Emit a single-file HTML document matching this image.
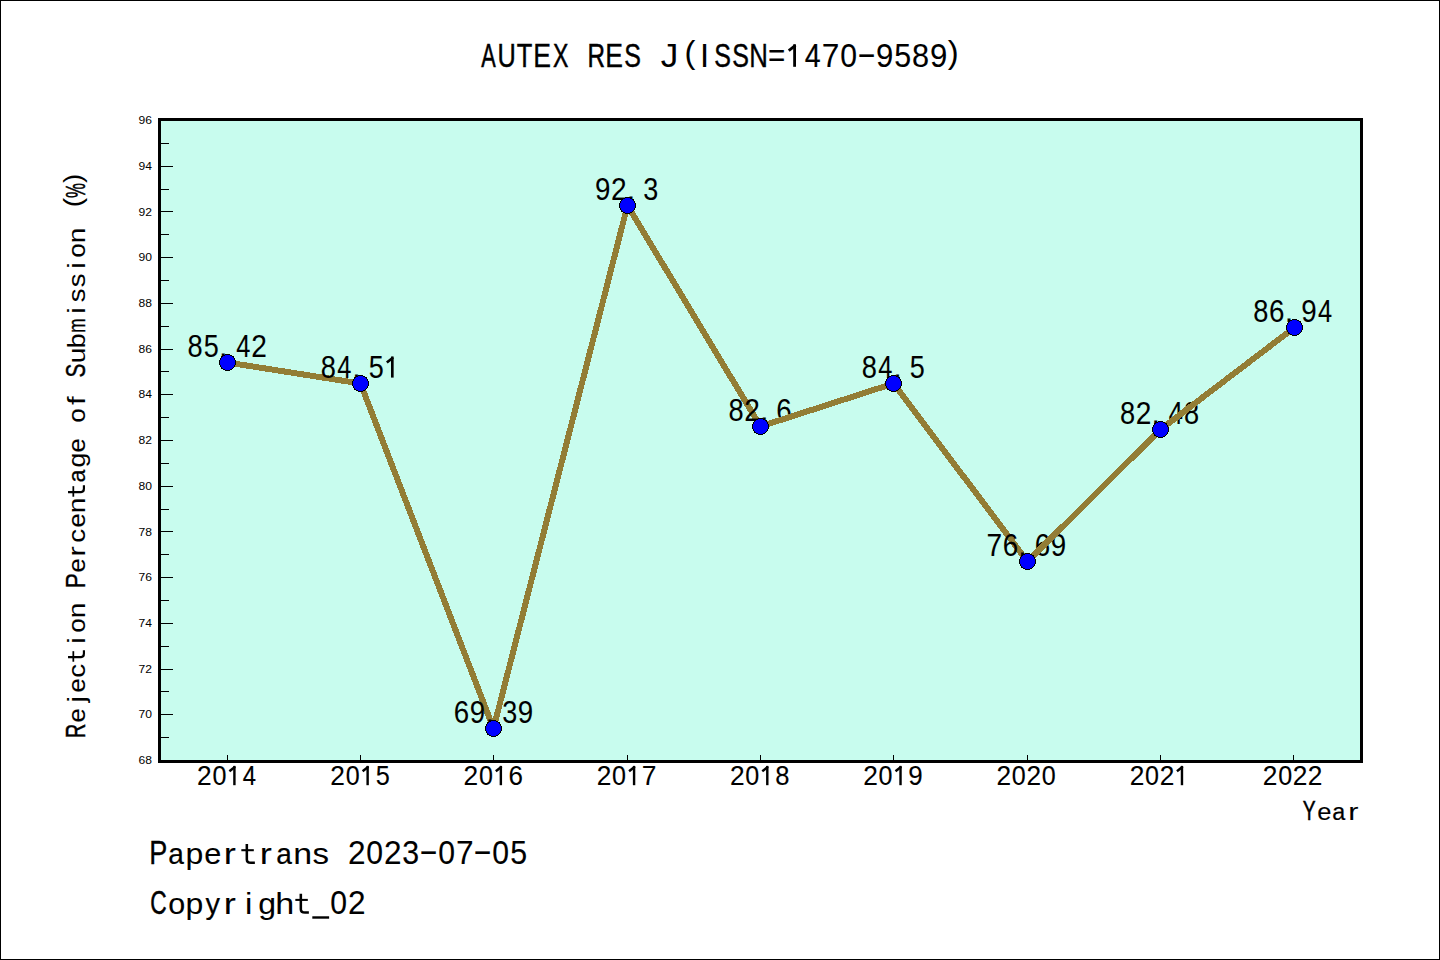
<!DOCTYPE html>
<html><head><meta charset="utf-8"><title>chart</title>
<style>
html,body{margin:0;padding:0;width:1440px;height:960px;overflow:hidden;background:#fff}
svg{display:block}
text{font-family:"Liberation Sans",sans-serif;fill:#000}
</style></head><body>
<svg width="1440" height="960" viewBox="0 0 1440 960">
<rect x="0" y="0" width="1440" height="960" fill="#fff"/>
<rect x="0.5" y="0.5" width="1439" height="959" fill="none" stroke="#000" stroke-width="1"/>
<rect x="161" y="121" width="1199" height="639" fill="#c8fcee"/>
<rect x="161" y="737" width="8" height="1" fill="#000"/>
<rect x="161" y="714" width="12" height="1" fill="#000"/>
<rect x="161" y="691" width="8" height="1" fill="#000"/>
<rect x="161" y="669" width="12" height="1" fill="#000"/>
<rect x="161" y="646" width="8" height="1" fill="#000"/>
<rect x="161" y="623" width="12" height="1" fill="#000"/>
<rect x="161" y="600" width="8" height="1" fill="#000"/>
<rect x="161" y="577" width="12" height="1" fill="#000"/>
<rect x="161" y="554" width="8" height="1" fill="#000"/>
<rect x="161" y="531" width="12" height="1" fill="#000"/>
<rect x="161" y="509" width="8" height="1" fill="#000"/>
<rect x="161" y="486" width="12" height="1" fill="#000"/>
<rect x="161" y="463" width="8" height="1" fill="#000"/>
<rect x="161" y="440" width="12" height="1" fill="#000"/>
<rect x="161" y="417" width="8" height="1" fill="#000"/>
<rect x="161" y="394" width="12" height="1" fill="#000"/>
<rect x="161" y="371" width="8" height="1" fill="#000"/>
<rect x="161" y="349" width="12" height="1" fill="#000"/>
<rect x="161" y="326" width="8" height="1" fill="#000"/>
<rect x="161" y="303" width="12" height="1" fill="#000"/>
<rect x="161" y="280" width="8" height="1" fill="#000"/>
<rect x="161" y="257" width="12" height="1" fill="#000"/>
<rect x="161" y="234" width="8" height="1" fill="#000"/>
<rect x="161" y="211" width="12" height="1" fill="#000"/>
<rect x="161" y="189" width="8" height="1" fill="#000"/>
<rect x="161" y="166" width="12" height="1" fill="#000"/>
<rect x="161" y="143" width="8" height="1" fill="#000"/>
<text transform="translate(152,764.1) scale(1.1,1)" font-size="11" text-anchor="end">68</text>
<text transform="translate(152,718.4) scale(1.1,1)" font-size="11" text-anchor="end">70</text>
<text transform="translate(152,672.7) scale(1.1,1)" font-size="11" text-anchor="end">72</text>
<text transform="translate(152,627.0) scale(1.1,1)" font-size="11" text-anchor="end">74</text>
<text transform="translate(152,581.2) scale(1.1,1)" font-size="11" text-anchor="end">76</text>
<text transform="translate(152,535.5) scale(1.1,1)" font-size="11" text-anchor="end">78</text>
<text transform="translate(152,489.8) scale(1.1,1)" font-size="11" text-anchor="end">80</text>
<text transform="translate(152,444.1) scale(1.1,1)" font-size="11" text-anchor="end">82</text>
<text transform="translate(152,398.4) scale(1.1,1)" font-size="11" text-anchor="end">84</text>
<text transform="translate(152,352.7) scale(1.1,1)" font-size="11" text-anchor="end">86</text>
<text transform="translate(152,307.0) scale(1.1,1)" font-size="11" text-anchor="end">88</text>
<text transform="translate(152,261.2) scale(1.1,1)" font-size="11" text-anchor="end">90</text>
<text transform="translate(152,215.5) scale(1.1,1)" font-size="11" text-anchor="end">92</text>
<text transform="translate(152,169.8) scale(1.1,1)" font-size="11" text-anchor="end">94</text>
<text transform="translate(152,124.1) scale(1.1,1)" font-size="11" text-anchor="end">96</text>
<rect x="227" y="755" width="1" height="5" fill="#000"/>
<rect x="360" y="755" width="1" height="5" fill="#000"/>
<rect x="493" y="755" width="1" height="5" fill="#000"/>
<rect x="627" y="755" width="1" height="5" fill="#000"/>
<rect x="760" y="755" width="1" height="5" fill="#000"/>
<rect x="893" y="755" width="1" height="5" fill="#000"/>
<rect x="1027" y="755" width="1" height="5" fill="#000"/>
<rect x="1160" y="755" width="1" height="5" fill="#000"/>
<rect x="1293" y="755" width="1" height="5" fill="#000"/>
<text transform="translate(195.11,356.60) scale(0.889,1.000)" x="-8.53" font-size="30.67" stroke="#000" stroke-width="0.07">8</text><text transform="translate(211.11,356.60) scale(0.880,1.000)" x="-8.50" font-size="30.67" stroke="#000" stroke-width="0.08">5</text><text transform="translate(223.27,356.60) scale(1.000,1.000)" x="-4.26" font-size="30.67" stroke="#000" stroke-width="0.02">.</text><text transform="translate(243.11,356.60) scale(0.828,1.000)" x="-8.43" font-size="30.67" stroke="#000" stroke-width="0.11">4</text><text transform="translate(259.11,356.60) scale(0.916,1.000)" x="-8.53" font-size="30.67" stroke="#000" stroke-width="0.05">2</text>
<line x1="227.5" y1="362.5" x2="360.5" y2="383.5" stroke="#937d35" stroke-width="6" stroke-linecap="round" shape-rendering="crispEdges"/>
<text transform="translate(328.33,377.60) scale(0.889,1.000)" x="-8.53" font-size="30.67" stroke="#000" stroke-width="0.07">8</text><text transform="translate(344.33,377.60) scale(0.828,1.000)" x="-8.43" font-size="30.67" stroke="#000" stroke-width="0.11">4</text><text transform="translate(356.49,377.60) scale(1.000,1.000)" x="-4.26" font-size="30.67" stroke="#000" stroke-width="0.02">.</text><text transform="translate(376.33,377.60) scale(0.880,1.000)" x="-8.50" font-size="30.67" stroke="#000" stroke-width="0.08">5</text><g transform="translate(392.33,377.60)"><path d="M-1.32,-21.10H1.32V0H-1.32Z" fill="#000"/><line x1="0.79" y1="-20.18" x2="-5.49" y2="-15.19" stroke="#000" stroke-width="2.64"/></g>
<line x1="360.5" y1="383.5" x2="493.5" y2="728.5" stroke="#937d35" stroke-width="6" stroke-linecap="round" shape-rendering="crispEdges"/>
<text transform="translate(461.56,722.60) scale(0.905,1.000)" x="-8.63" font-size="30.67" stroke="#000" stroke-width="0.06">6</text><text transform="translate(477.56,722.60) scale(0.904,1.000)" x="-8.52" font-size="30.67" stroke="#000" stroke-width="0.06">9</text><text transform="translate(489.72,722.60) scale(1.000,1.000)" x="-4.26" font-size="30.67" stroke="#000" stroke-width="0.02">.</text><text transform="translate(509.56,722.60) scale(0.880,1.000)" x="-8.44" font-size="30.67" stroke="#000" stroke-width="0.08">3</text><text transform="translate(525.56,722.60) scale(0.904,1.000)" x="-8.52" font-size="30.67" stroke="#000" stroke-width="0.06">9</text>
<line x1="493.5" y1="728.5" x2="627.5" y2="205.5" stroke="#937d35" stroke-width="6" stroke-linecap="round" shape-rendering="crispEdges"/>
<text transform="translate(602.78,199.60) scale(0.904,1.000)" x="-8.52" font-size="30.67" stroke="#000" stroke-width="0.06">9</text><text transform="translate(618.78,199.60) scale(0.916,1.000)" x="-8.53" font-size="30.67" stroke="#000" stroke-width="0.05">2</text><text transform="translate(630.94,199.60) scale(1.000,1.000)" x="-4.26" font-size="30.67" stroke="#000" stroke-width="0.02">.</text><text transform="translate(650.78,199.60) scale(0.880,1.000)" x="-8.44" font-size="30.67" stroke="#000" stroke-width="0.08">3</text>
<line x1="627.5" y1="205.5" x2="760.5" y2="426.5" stroke="#937d35" stroke-width="6" stroke-linecap="round" shape-rendering="crispEdges"/>
<text transform="translate(736.00,420.60) scale(0.889,1.000)" x="-8.53" font-size="30.67" stroke="#000" stroke-width="0.07">8</text><text transform="translate(752.00,420.60) scale(0.916,1.000)" x="-8.53" font-size="30.67" stroke="#000" stroke-width="0.05">2</text><text transform="translate(764.16,420.60) scale(1.000,1.000)" x="-4.26" font-size="30.67" stroke="#000" stroke-width="0.02">.</text><text transform="translate(784.00,420.60) scale(0.905,1.000)" x="-8.63" font-size="30.67" stroke="#000" stroke-width="0.06">6</text>
<line x1="760.5" y1="426.5" x2="893.5" y2="383.5" stroke="#937d35" stroke-width="6" stroke-linecap="round" shape-rendering="crispEdges"/>
<text transform="translate(869.22,377.60) scale(0.889,1.000)" x="-8.53" font-size="30.67" stroke="#000" stroke-width="0.07">8</text><text transform="translate(885.22,377.60) scale(0.828,1.000)" x="-8.43" font-size="30.67" stroke="#000" stroke-width="0.11">4</text><text transform="translate(897.38,377.60) scale(1.000,1.000)" x="-4.26" font-size="30.67" stroke="#000" stroke-width="0.02">.</text><text transform="translate(917.22,377.60) scale(0.880,1.000)" x="-8.50" font-size="30.67" stroke="#000" stroke-width="0.08">5</text>
<line x1="893.5" y1="383.5" x2="1027.5" y2="561.5" stroke="#937d35" stroke-width="6" stroke-linecap="round" shape-rendering="crispEdges"/>
<text transform="translate(994.44,555.60) scale(0.918,1.000)" x="-8.54" font-size="30.67" stroke="#000" stroke-width="0.05">7</text><text transform="translate(1010.44,555.60) scale(0.905,1.000)" x="-8.63" font-size="30.67" stroke="#000" stroke-width="0.06">6</text><text transform="translate(1022.60,555.60) scale(1.000,1.000)" x="-4.26" font-size="30.67" stroke="#000" stroke-width="0.02">.</text><text transform="translate(1042.44,555.60) scale(0.905,1.000)" x="-8.63" font-size="30.67" stroke="#000" stroke-width="0.06">6</text><text transform="translate(1058.44,555.60) scale(0.904,1.000)" x="-8.52" font-size="30.67" stroke="#000" stroke-width="0.06">9</text>
<line x1="1027.5" y1="561.5" x2="1160.5" y2="429.5" stroke="#937d35" stroke-width="6" stroke-linecap="round" shape-rendering="crispEdges"/>
<text transform="translate(1127.67,423.60) scale(0.889,1.000)" x="-8.53" font-size="30.67" stroke="#000" stroke-width="0.07">8</text><text transform="translate(1143.67,423.60) scale(0.916,1.000)" x="-8.53" font-size="30.67" stroke="#000" stroke-width="0.05">2</text><text transform="translate(1155.83,423.60) scale(1.000,1.000)" x="-4.26" font-size="30.67" stroke="#000" stroke-width="0.02">.</text><text transform="translate(1175.67,423.60) scale(0.828,1.000)" x="-8.43" font-size="30.67" stroke="#000" stroke-width="0.11">4</text><text transform="translate(1191.67,423.60) scale(0.889,1.000)" x="-8.53" font-size="30.67" stroke="#000" stroke-width="0.07">8</text>
<line x1="1160.5" y1="429.5" x2="1294.5" y2="327.5" stroke="#937d35" stroke-width="6" stroke-linecap="round" shape-rendering="crispEdges"/>
<text transform="translate(1260.89,321.60) scale(0.889,1.000)" x="-8.53" font-size="30.67" stroke="#000" stroke-width="0.07">8</text><text transform="translate(1276.89,321.60) scale(0.905,1.000)" x="-8.63" font-size="30.67" stroke="#000" stroke-width="0.06">6</text><text transform="translate(1289.05,321.60) scale(1.000,1.000)" x="-4.26" font-size="30.67" stroke="#000" stroke-width="0.02">.</text><text transform="translate(1308.89,321.60) scale(0.904,1.000)" x="-8.52" font-size="30.67" stroke="#000" stroke-width="0.06">9</text><text transform="translate(1324.89,321.60) scale(0.828,1.000)" x="-8.43" font-size="30.67" stroke="#000" stroke-width="0.11">4</text>
<circle cx="227.5" cy="362.5" r="8" fill="#0000ff" stroke="#000" stroke-width="1" shape-rendering="crispEdges"/>
<circle cx="360.5" cy="383.5" r="8" fill="#0000ff" stroke="#000" stroke-width="1" shape-rendering="crispEdges"/>
<circle cx="493.5" cy="728.5" r="8" fill="#0000ff" stroke="#000" stroke-width="1" shape-rendering="crispEdges"/>
<circle cx="627.5" cy="205.5" r="8" fill="#0000ff" stroke="#000" stroke-width="1" shape-rendering="crispEdges"/>
<circle cx="760.5" cy="426.5" r="8" fill="#0000ff" stroke="#000" stroke-width="1" shape-rendering="crispEdges"/>
<circle cx="893.5" cy="383.5" r="8" fill="#0000ff" stroke="#000" stroke-width="1" shape-rendering="crispEdges"/>
<circle cx="1027.5" cy="561.5" r="8" fill="#0000ff" stroke="#000" stroke-width="1" shape-rendering="crispEdges"/>
<circle cx="1160.5" cy="429.5" r="8" fill="#0000ff" stroke="#000" stroke-width="1" shape-rendering="crispEdges"/>
<circle cx="1294.5" cy="327.5" r="8" fill="#0000ff" stroke="#000" stroke-width="1" shape-rendering="crispEdges"/>
<rect x="159.5" y="119.5" width="1202" height="642" fill="none" stroke="#000" stroke-width="3"/>
<text transform="translate(204.41,785.20) scale(0.939,1.000)" x="-7.80" font-size="28.05" stroke="#000" stroke-width="0.08">2</text><text transform="translate(219.41,785.20) scale(0.895,1.000)" x="-7.80" font-size="28.05" stroke="#000" stroke-width="0.15">0</text><g transform="translate(234.41,785.20)"><path d="M-1.21,-19.30H1.21V0H-1.21Z" fill="#000"/><line x1="0.72" y1="-18.46" x2="-5.02" y2="-13.90" stroke="#000" stroke-width="2.41"/></g><text transform="translate(249.41,785.20) scale(0.849,1.000)" x="-7.71" font-size="28.05" stroke="#000" stroke-width="0.22">4</text>
<text transform="translate(337.63,785.20) scale(0.939,1.000)" x="-7.80" font-size="28.05" stroke="#000" stroke-width="0.08">2</text><text transform="translate(352.63,785.20) scale(0.895,1.000)" x="-7.80" font-size="28.05" stroke="#000" stroke-width="0.15">0</text><g transform="translate(367.63,785.20)"><path d="M-1.21,-19.30H1.21V0H-1.21Z" fill="#000"/><line x1="0.72" y1="-18.46" x2="-5.02" y2="-13.90" stroke="#000" stroke-width="2.41"/></g><text transform="translate(382.63,785.20) scale(0.902,1.000)" x="-7.77" font-size="28.05" stroke="#000" stroke-width="0.14">5</text>
<text transform="translate(470.86,785.20) scale(0.939,1.000)" x="-7.80" font-size="28.05" stroke="#000" stroke-width="0.08">2</text><text transform="translate(485.86,785.20) scale(0.895,1.000)" x="-7.80" font-size="28.05" stroke="#000" stroke-width="0.15">0</text><g transform="translate(500.86,785.20)"><path d="M-1.21,-19.30H1.21V0H-1.21Z" fill="#000"/><line x1="0.72" y1="-18.46" x2="-5.02" y2="-13.90" stroke="#000" stroke-width="2.41"/></g><text transform="translate(515.86,785.20) scale(0.927,1.000)" x="-7.90" font-size="28.05" stroke="#000" stroke-width="0.10">6</text>
<text transform="translate(604.08,785.20) scale(0.939,1.000)" x="-7.80" font-size="28.05" stroke="#000" stroke-width="0.08">2</text><text transform="translate(619.08,785.20) scale(0.895,1.000)" x="-7.80" font-size="28.05" stroke="#000" stroke-width="0.15">0</text><g transform="translate(634.08,785.20)"><path d="M-1.21,-19.30H1.21V0H-1.21Z" fill="#000"/><line x1="0.72" y1="-18.46" x2="-5.02" y2="-13.90" stroke="#000" stroke-width="2.41"/></g><text transform="translate(649.08,785.20) scale(0.941,1.000)" x="-7.81" font-size="28.05" stroke="#000" stroke-width="0.08">7</text>
<text transform="translate(737.30,785.20) scale(0.939,1.000)" x="-7.80" font-size="28.05" stroke="#000" stroke-width="0.08">2</text><text transform="translate(752.30,785.20) scale(0.895,1.000)" x="-7.80" font-size="28.05" stroke="#000" stroke-width="0.15">0</text><g transform="translate(767.30,785.20)"><path d="M-1.21,-19.30H1.21V0H-1.21Z" fill="#000"/><line x1="0.72" y1="-18.46" x2="-5.02" y2="-13.90" stroke="#000" stroke-width="2.41"/></g><text transform="translate(782.30,785.20) scale(0.912,1.000)" x="-7.80" font-size="28.05" stroke="#000" stroke-width="0.12">8</text>
<text transform="translate(870.52,785.20) scale(0.939,1.000)" x="-7.80" font-size="28.05" stroke="#000" stroke-width="0.08">2</text><text transform="translate(885.52,785.20) scale(0.895,1.000)" x="-7.80" font-size="28.05" stroke="#000" stroke-width="0.15">0</text><g transform="translate(900.52,785.20)"><path d="M-1.21,-19.30H1.21V0H-1.21Z" fill="#000"/><line x1="0.72" y1="-18.46" x2="-5.02" y2="-13.90" stroke="#000" stroke-width="2.41"/></g><text transform="translate(915.52,785.20) scale(0.926,1.000)" x="-7.79" font-size="28.05" stroke="#000" stroke-width="0.10">9</text>
<text transform="translate(1003.74,785.20) scale(0.939,1.000)" x="-7.80" font-size="28.05" stroke="#000" stroke-width="0.08">2</text><text transform="translate(1018.74,785.20) scale(0.895,1.000)" x="-7.80" font-size="28.05" stroke="#000" stroke-width="0.15">0</text><text transform="translate(1033.74,785.20) scale(0.939,1.000)" x="-7.80" font-size="28.05" stroke="#000" stroke-width="0.08">2</text><text transform="translate(1048.74,785.20) scale(0.895,1.000)" x="-7.80" font-size="28.05" stroke="#000" stroke-width="0.15">0</text>
<text transform="translate(1136.97,785.20) scale(0.939,1.000)" x="-7.80" font-size="28.05" stroke="#000" stroke-width="0.08">2</text><text transform="translate(1151.97,785.20) scale(0.895,1.000)" x="-7.80" font-size="28.05" stroke="#000" stroke-width="0.15">0</text><text transform="translate(1166.97,785.20) scale(0.939,1.000)" x="-7.80" font-size="28.05" stroke="#000" stroke-width="0.08">2</text><g transform="translate(1181.97,785.20)"><path d="M-1.21,-19.30H1.21V0H-1.21Z" fill="#000"/><line x1="0.72" y1="-18.46" x2="-5.02" y2="-13.90" stroke="#000" stroke-width="2.41"/></g>
<text transform="translate(1270.19,785.20) scale(0.939,1.000)" x="-7.80" font-size="28.05" stroke="#000" stroke-width="0.08">2</text><text transform="translate(1285.19,785.20) scale(0.895,1.000)" x="-7.80" font-size="28.05" stroke="#000" stroke-width="0.15">0</text><text transform="translate(1300.19,785.20) scale(0.939,1.000)" x="-7.80" font-size="28.05" stroke="#000" stroke-width="0.08">2</text><text transform="translate(1315.19,785.20) scale(0.939,1.000)" x="-7.80" font-size="28.05" stroke="#000" stroke-width="0.08">2</text>
<text transform="translate(1309.20,820.10) scale(0.694,1.000)" x="-9.26" font-size="27.76" stroke="#000" stroke-width="0.50">Y</text><text transform="translate(1324.20,820.10) scale(0.921,0.870)" x="-7.69" font-size="27.76" stroke="#000" stroke-width="0.11">e</text><text transform="translate(1339.20,820.10) scale(0.841,0.870)" x="-8.31" font-size="27.76" stroke="#000" stroke-width="0.24">a</text><text transform="translate(1354.20,820.10) scale(1.100,0.870)" x="-5.31" font-size="27.76" stroke="#000" stroke-width="0.05">r</text>
<text transform="translate(488.60,66.80) scale(0.664,1.000)" x="-10.91" font-size="32.70" stroke="#000" stroke-width="0.50">A</text><text transform="translate(506.60,66.80) scale(0.775,1.000)" x="-11.81" font-size="32.70" stroke="#000" stroke-width="0.43">U</text><text transform="translate(524.60,66.80) scale(0.779,1.000)" x="-9.98" font-size="32.70" stroke="#000" stroke-width="0.42">T</text><text transform="translate(542.60,66.80) scale(0.812,1.000)" x="-11.55" font-size="32.70" stroke="#000" stroke-width="0.34">E</text><text transform="translate(560.60,66.80) scale(0.706,1.000)" x="-10.93" font-size="32.70" stroke="#000" stroke-width="0.50">X</text><text transform="translate(596.60,66.80) scale(0.742,1.000)" x="-12.39" font-size="32.70" stroke="#000" stroke-width="0.50">R</text><text transform="translate(614.60,66.80) scale(0.812,1.000)" x="-11.55" font-size="32.70" stroke="#000" stroke-width="0.34">E</text><text transform="translate(632.60,66.80) scale(0.765,1.000)" x="-10.90" font-size="32.70" stroke="#000" stroke-width="0.45">S</text><text transform="translate(668.60,66.80) scale(1.074,1.000)" x="-7.22" font-size="32.70" stroke="#000" stroke-width="0.05">J</text><text transform="translate(690.92,62.88) scale(1.000,0.940)" x="-6.36" font-size="32.70">(</text><text transform="translate(704.60,66.80) scale(1.000,1.000)" x="-4.54" font-size="32.70" stroke="#000" stroke-width="0.05">I</text><text transform="translate(722.60,66.80) scale(0.765,1.000)" x="-10.90" font-size="32.70" stroke="#000" stroke-width="0.45">S</text><text transform="translate(740.60,66.80) scale(0.765,1.000)" x="-10.90" font-size="32.70" stroke="#000" stroke-width="0.45">S</text><text transform="translate(758.60,66.80) scale(0.788,1.000)" x="-11.82" font-size="32.70" stroke="#000" stroke-width="0.40">N</text><text transform="translate(776.60,66.80) scale(0.906,1.000)" x="-9.54" font-size="32.70" stroke="#000" stroke-width="0.05">=</text><g transform="translate(794.60,66.80)"><path d="M-1.41,-22.50H1.41V0H-1.41Z" fill="#000"/><line x1="0.84" y1="-21.52" x2="-5.85" y2="-16.20" stroke="#000" stroke-width="2.81"/></g><text transform="translate(812.60,66.80) scale(0.874,1.000)" x="-8.99" font-size="32.70" stroke="#000" stroke-width="0.21">4</text><text transform="translate(830.60,66.80) scale(0.969,1.000)" x="-9.11" font-size="32.70" stroke="#000" stroke-width="0.05">7</text><text transform="translate(848.60,66.80) scale(0.921,1.000)" x="-9.09" font-size="32.70" stroke="#000" stroke-width="0.13">0</text><text transform="translate(866.60,64.84) scale(1.804,1.000)" x="-5.45" font-size="32.70" stroke="#000" stroke-width="0.05">-</text><text transform="translate(884.60,66.80) scale(0.953,1.000)" x="-9.09" font-size="32.70" stroke="#000" stroke-width="0.07">9</text><text transform="translate(902.60,66.80) scale(0.929,1.000)" x="-9.06" font-size="32.70" stroke="#000" stroke-width="0.11">5</text><text transform="translate(920.60,66.80) scale(0.938,1.000)" x="-9.09" font-size="32.70" stroke="#000" stroke-width="0.10">8</text><text transform="translate(938.60,66.80) scale(0.953,1.000)" x="-9.09" font-size="32.70" stroke="#000" stroke-width="0.07">9</text><text transform="translate(952.28,62.88) scale(1.000,0.940)" x="-4.53" font-size="32.70">)</text>
<text transform="translate(158.70,864.00) scale(0.816,1.000)" x="-11.54" font-size="33.14" stroke="#000" stroke-width="0.34">P</text><text transform="translate(176.70,864.00) scale(0.846,0.870)" x="-9.92" font-size="33.14" stroke="#000" stroke-width="0.27">a</text><text transform="translate(194.70,864.00) scale(0.966,0.870)" x="-9.59" font-size="33.14" stroke="#000" stroke-width="0.05">p</text><text transform="translate(212.70,864.00) scale(0.926,0.870)" x="-9.18" font-size="33.14" stroke="#000" stroke-width="0.12">e</text><text transform="translate(230.70,864.00) scale(1.100,0.870)" x="-6.34" font-size="33.14" stroke="#000" stroke-width="0.05">r</text><g transform="translate(248.70,864.00)"><path d="M-1.87,-20.06V-4.56Q-1.87,-1.28 2.28,-1.28H6.16" fill="none" stroke="#000" stroke-width="2.55"/><rect x="-7.36" y="-14.82" width="12.47" height="2.05" fill="#000"/></g><text transform="translate(266.70,864.00) scale(1.100,0.870)" x="-6.34" font-size="33.14" stroke="#000" stroke-width="0.05">r</text><text transform="translate(284.70,864.00) scale(0.846,0.870)" x="-9.92" font-size="33.14" stroke="#000" stroke-width="0.27">a</text><text transform="translate(302.70,864.00) scale(1.023,0.870)" x="-9.24" font-size="33.14" stroke="#000" stroke-width="0.05">n</text><text transform="translate(320.70,864.00) scale(0.997,0.870)" x="-8.15" font-size="33.14" stroke="#000" stroke-width="0.05">s</text><text transform="translate(356.70,864.00) scale(0.954,1.000)" x="-9.22" font-size="33.14" stroke="#000" stroke-width="0.07">2</text><text transform="translate(374.70,864.00) scale(0.909,1.000)" x="-9.22" font-size="33.14" stroke="#000" stroke-width="0.15">0</text><text transform="translate(392.70,864.00) scale(0.954,1.000)" x="-9.22" font-size="33.14" stroke="#000" stroke-width="0.07">2</text><text transform="translate(410.70,864.00) scale(0.916,1.000)" x="-9.12" font-size="33.14" stroke="#000" stroke-width="0.14">3</text><text transform="translate(428.70,862.01) scale(1.780,1.000)" x="-5.52" font-size="33.14" stroke="#000" stroke-width="0.05">-</text><text transform="translate(446.70,864.00) scale(0.909,1.000)" x="-9.22" font-size="33.14" stroke="#000" stroke-width="0.15">0</text><text transform="translate(464.70,864.00) scale(0.956,1.000)" x="-9.23" font-size="33.14" stroke="#000" stroke-width="0.07">7</text><text transform="translate(482.70,862.01) scale(1.780,1.000)" x="-5.52" font-size="33.14" stroke="#000" stroke-width="0.05">-</text><text transform="translate(500.70,864.00) scale(0.909,1.000)" x="-9.22" font-size="33.14" stroke="#000" stroke-width="0.15">0</text><text transform="translate(518.70,864.00) scale(0.916,1.000)" x="-9.18" font-size="33.14" stroke="#000" stroke-width="0.14">5</text>
<text transform="translate(158.70,913.70) scale(0.686,1.000)" x="-12.18" font-size="33.14" stroke="#000" stroke-width="0.50">C</text><text transform="translate(176.70,913.70) scale(0.920,0.870)" x="-9.22" font-size="33.14" stroke="#000" stroke-width="0.13">o</text><text transform="translate(194.70,913.70) scale(0.966,0.870)" x="-9.59" font-size="33.14" stroke="#000" stroke-width="0.05">p</text><text transform="translate(212.70,913.70) scale(0.877,0.870)" x="-8.29" font-size="33.14" stroke="#000" stroke-width="0.21">y</text><text transform="translate(230.70,913.70) scale(1.100,0.870)" x="-6.34" font-size="33.14" stroke="#000" stroke-width="0.05">r</text><text transform="translate(248.70,913.70) scale(1.000,0.870)" x="-3.67" font-size="33.14" stroke="#000" stroke-width="0.05">i</text><text transform="translate(266.70,913.70) scale(0.966,0.870)" x="-8.84" font-size="33.14" stroke="#000" stroke-width="0.05">g</text><text transform="translate(284.70,913.70) scale(1.030,0.870)" x="-9.29" font-size="33.14" stroke="#000" stroke-width="0.05">h</text><g transform="translate(302.70,913.70)"><path d="M-1.87,-20.06V-4.56Q-1.87,-1.28 2.28,-1.28H6.16" fill="none" stroke="#000" stroke-width="2.55"/><rect x="-7.36" y="-14.82" width="12.47" height="2.05" fill="#000"/></g><g transform="translate(320.70,913.70)"><rect x="-8.39" y="2.59" width="16.81" height="2.41" fill="#000"/></g><text transform="translate(338.70,913.70) scale(0.909,1.000)" x="-9.22" font-size="33.14" stroke="#000" stroke-width="0.15">0</text><text transform="translate(356.70,913.70) scale(0.954,1.000)" x="-9.22" font-size="33.14" stroke="#000" stroke-width="0.07">2</text>
<text transform="translate(85.00,730.50) rotate(-90) scale(0.720,1.000)" x="-10.63" font-size="28.05" stroke="#000" stroke-width="0.49">R</text><text transform="translate(85.00,715.50) rotate(-90) scale(0.912,0.870)" x="-7.77" font-size="28.05" stroke="#000" stroke-width="0.12">e</text><text transform="translate(85.00,700.50) rotate(-90) scale(1.000,0.870)" x="-1.83" font-size="28.05" stroke="#000" stroke-width="0.05">j</text><text transform="translate(85.00,685.50) rotate(-90) scale(0.912,0.870)" x="-7.77" font-size="28.05" stroke="#000" stroke-width="0.12">e</text><text transform="translate(85.00,670.50) rotate(-90) scale(0.992,0.870)" x="-7.24" font-size="28.05" stroke="#000" stroke-width="0.05">c</text><g transform="translate(85.00,655.50) rotate(-90)"><path d="M-1.58,-16.98V-3.86Q-1.58,-1.08 1.93,-1.08H5.21" fill="none" stroke="#000" stroke-width="2.16"/><rect x="-6.23" y="-12.55" width="10.56" height="1.74" fill="#000"/></g><text transform="translate(85.00,640.50) rotate(-90) scale(1.000,0.870)" x="-3.11" font-size="28.05" stroke="#000" stroke-width="0.05">i</text><text transform="translate(85.00,625.50) rotate(-90) scale(0.906,0.870)" x="-7.80" font-size="28.05" stroke="#000" stroke-width="0.13">o</text><text transform="translate(85.00,610.50) rotate(-90) scale(1.007,0.870)" x="-7.82" font-size="28.05" stroke="#000" stroke-width="0.05">n</text><text transform="translate(85.00,580.50) rotate(-90) scale(0.804,1.000)" x="-9.77" font-size="28.05" stroke="#000" stroke-width="0.31">P</text><text transform="translate(85.00,565.50) rotate(-90) scale(0.912,0.870)" x="-7.77" font-size="28.05" stroke="#000" stroke-width="0.12">e</text><text transform="translate(85.00,550.50) rotate(-90) scale(1.100,0.870)" x="-5.37" font-size="28.05" stroke="#000" stroke-width="0.05">r</text><text transform="translate(85.00,535.50) rotate(-90) scale(0.992,0.870)" x="-7.24" font-size="28.05" stroke="#000" stroke-width="0.05">c</text><text transform="translate(85.00,520.50) rotate(-90) scale(0.912,0.870)" x="-7.77" font-size="28.05" stroke="#000" stroke-width="0.12">e</text><text transform="translate(85.00,505.50) rotate(-90) scale(1.007,0.870)" x="-7.82" font-size="28.05" stroke="#000" stroke-width="0.05">n</text><g transform="translate(85.00,490.50) rotate(-90)"><path d="M-1.58,-16.98V-3.86Q-1.58,-1.08 1.93,-1.08H5.21" fill="none" stroke="#000" stroke-width="2.16"/><rect x="-6.23" y="-12.55" width="10.56" height="1.74" fill="#000"/></g><text transform="translate(85.00,475.50) rotate(-90) scale(0.833,0.870)" x="-8.40" font-size="28.05" stroke="#000" stroke-width="0.25">a</text><text transform="translate(85.00,460.50) rotate(-90) scale(0.951,0.870)" x="-7.49" font-size="28.05" stroke="#000" stroke-width="0.06">g</text><text transform="translate(85.00,445.50) rotate(-90) scale(0.912,0.870)" x="-7.77" font-size="28.05" stroke="#000" stroke-width="0.12">e</text><text transform="translate(85.00,415.50) rotate(-90) scale(0.906,0.870)" x="-7.80" font-size="28.05" stroke="#000" stroke-width="0.13">o</text><text transform="translate(85.00,400.50) rotate(-90) scale(1.100,0.870)" x="-4.12" font-size="28.05" stroke="#000" stroke-width="0.05">f</text><text transform="translate(85.00,370.50) rotate(-90) scale(0.743,1.000)" x="-9.35" font-size="28.05" stroke="#000" stroke-width="0.44">S</text><text transform="translate(85.00,355.50) rotate(-90) scale(1.007,0.870)" x="-7.78" font-size="28.05" stroke="#000" stroke-width="0.05">u</text><text transform="translate(85.00,340.50) rotate(-90) scale(0.951,0.870)" x="-8.12" font-size="28.05" stroke="#000" stroke-width="0.06">b</text><text transform="translate(85.00,325.50) rotate(-90) scale(0.611,0.870)" x="-11.69" font-size="28.05" stroke="#000" stroke-width="0.50">m</text><text transform="translate(85.00,310.50) rotate(-90) scale(1.000,0.870)" x="-3.11" font-size="28.05" stroke="#000" stroke-width="0.05">i</text><text transform="translate(85.00,295.50) rotate(-90) scale(0.981,0.870)" x="-6.90" font-size="28.05" stroke="#000" stroke-width="0.05">s</text><text transform="translate(85.00,280.50) rotate(-90) scale(0.981,0.870)" x="-6.90" font-size="28.05" stroke="#000" stroke-width="0.05">s</text><text transform="translate(85.00,265.50) rotate(-90) scale(1.000,0.870)" x="-3.11" font-size="28.05" stroke="#000" stroke-width="0.05">i</text><text transform="translate(85.00,250.50) rotate(-90) scale(0.906,0.870)" x="-7.80" font-size="28.05" stroke="#000" stroke-width="0.13">o</text><text transform="translate(85.00,235.50) rotate(-90) scale(1.007,0.870)" x="-7.82" font-size="28.05" stroke="#000" stroke-width="0.05">n</text><text transform="translate(81.63,201.90) rotate(-90) scale(1.000,0.940)" x="-5.46" font-size="28.05">(</text><text transform="translate(85.00,190.50) rotate(-90) scale(0.600,1.000)" x="-12.47" font-size="28.05" stroke="#000" stroke-width="0.50">%</text><text transform="translate(81.63,179.10) rotate(-90) scale(1.000,0.940)" x="-3.88" font-size="28.05">)</text>
</svg>
</body></html>
